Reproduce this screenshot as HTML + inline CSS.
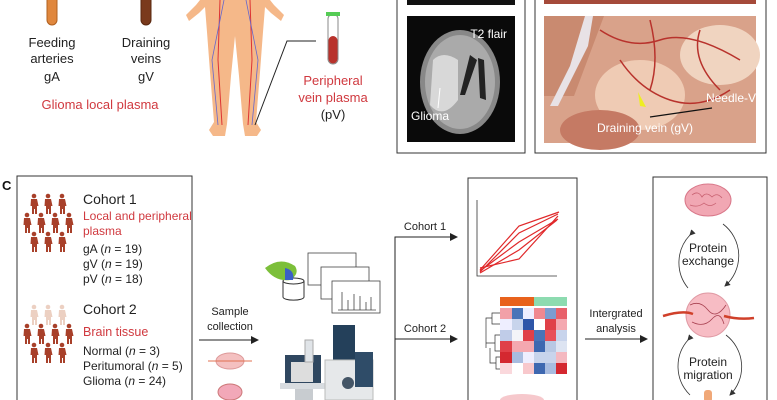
<!DOCTYPE html>
<html><head><meta charset="utf-8"><style>
html,body{margin:0;padding:0;background:#fff;width:777px;height:400px;overflow:hidden}
svg{display:block;font-family:"Liberation Sans",sans-serif}
</style></head><body>
<svg width="777" height="400" viewBox="0 0 777 400">
<defs>
<marker id="ar" markerWidth="8" markerHeight="8" refX="7" refY="4" orient="auto" markerUnits="userSpaceOnUse"><path d="M0,0 L8,4 L0,8 Z" fill="#222"/></marker>
<marker id="as" markerWidth="6" markerHeight="6" refX="5" refY="3" orient="auto" markerUnits="userSpaceOnUse"><path d="M0,0 L6,3 L0,6 Z" fill="#333"/></marker>
<g id="man"><circle cx="0" cy="-7" r="2.3"/><path d="M-3,-4 h6 l1.5,7 h-1.5 v8 h-2 v-5 h-1 v5 h-2 v-8 h-1.5 z"/></g>
</defs>

<!-- top left tubes -->
<rect x="47" y="-5" width="10" height="30" rx="5" fill="#e0873d" stroke="#b06020"/>
<rect x="141" y="-5" width="10" height="30" rx="5" fill="#7a3a1c" stroke="#5a2810"/>
<g font-size="13" fill="#222" text-anchor="middle">
<text x="52" y="47">Feeding</text><text x="52" y="63">arteries</text><text x="52" y="81">gA</text>
<text x="146" y="47">Draining</text><text x="146" y="63">veins</text><text x="146" y="81">gV</text>
</g>
<text x="100" y="109" font-size="13" fill="#d0393f" text-anchor="middle">Glioma local plasma</text>

<!-- body -->
<g fill="#f5b889">
<path d="M200,0 h70 l4,5 l10,10 l-3,6 l-10,-8 l-6,-6 l-2,25 l-3,40 l-4,50 l5,8 l-4,6 h-12 l-2,-12 l-4,-48 l-4,-40 l-4,40 l-4,48 l-2,12 h-12 l-4,-6 l5,-8 l-4,-50 l-3,-40 l-2,-25 l-6,6 l-10,8 l-3,-6 l10,-10 z"/>
</g>
<g stroke="#d33" stroke-width="1" fill="none"><path d="M220,0 L218,60 L222,125"/><path d="M250,0 L252,60 L248,125"/></g>
<g stroke="#66c" stroke-width="0.8" fill="none"><path d="M224,0 L212,60 L218,125"/><path d="M246,0 L258,60 L252,125"/></g>
<polyline points="316,41 287,41 255,125" fill="none" stroke="#222" stroke-width="1"/>
<!-- pV tube -->
<rect x="328" y="14" width="10" height="50" rx="5" fill="#fff" stroke="#888"/>
<rect x="328.5" y="36" width="9" height="27.5" rx="4.5" fill="#b8322c"/>
<rect x="326" y="12" width="14" height="4" fill="#5c5" />
<g font-size="13" text-anchor="middle"><text x="333" y="85" fill="#d0393f">Peripheral</text><text x="333" y="102" fill="#d0393f">vein plasma</text><text x="333" y="119" fill="#222">(pV)</text></g>

<!-- top right panels -->
<rect x="397" y="-2" width="128" height="155" fill="#fff" stroke="#333"/>
<rect x="407" y="-2" width="108" height="7" fill="#111"/>
<rect x="407" y="16" width="108" height="126" fill="#0a0a0a"/>
<ellipse cx="460" cy="82" rx="40" ry="52" fill="#888"/>
<ellipse cx="460" cy="82" rx="35" ry="47" fill="#aaa"/>
<path d="M433,60 q10,-10 25,0 v40 q-15,20 -28,5 z" fill="#d8d8d8"/>
<path d="M470,55 l-10,40 l5,0 l12,-35 z M478,58 l2,40 l6,2 l-2,-40z" fill="#222"/>
<text x="507" y="38" font-size="12" fill="#fff" text-anchor="end">T2 flair</text>
<text x="411" y="120" font-size="12" fill="#fff">Glioma</text>
<line x1="438" y1="108" x2="440" y2="88" stroke="#fff"/>

<rect x="535" y="-2" width="231" height="155" fill="#fff" stroke="#333"/>
<rect x="544" y="-2" width="212" height="6" fill="#a54a3a"/>
<rect x="544" y="16" width="212" height="127" fill="#d9a28a"/>
<path d="M544,16 h60 l-30,80 h-30z" fill="#c98a70"/>
<path d="M585,16 l-15,50 l-20,40 l8,0 l30,-60 l5,-30z" fill="#e8e2e6"/>
<ellipse cx="640" cy="95" rx="45" ry="35" fill="#efcbb4"/>
<ellipse cx="720" cy="55" rx="40" ry="30" fill="#f0d4c0"/>
<ellipse cx="600" cy="130" rx="40" ry="20" fill="#c57a64"/>
<g stroke="#b8322c" stroke-width="1.5" fill="none"><path d="M600,30 q30,20 60,10 t80,20"/><path d="M620,60 q20,30 50,40 t60,-10"/><path d="M650,20 q10,40 0,70"/><path d="M700,30 q-10,30 20,60"/></g>
<line x1="650" y1="117" x2="712" y2="108" stroke="#111" stroke-width="1.2"/>
<path d="M638,92 l8,15 l-6,-1z" fill="#ee2"/>
<text x="756" y="102" font-size="12" fill="#fff" text-anchor="end">Needle-V</text>
<text x="597" y="132" font-size="12" fill="#fff">Draining vein (gV)</text>

<!-- Section C -->
<text x="2" y="190" font-size="13" font-weight="bold" fill="#111">C</text>
<rect x="17" y="176" width="175" height="230" fill="#fff" stroke="#333"/>
<g fill="#a8402a">
<use href="#man" x="34" y="203"/><use href="#man" x="48" y="203"/><use href="#man" x="62" y="203"/>
<use href="#man" x="27" y="222"/><use href="#man" x="41" y="222"/><use href="#man" x="55" y="222"/><use href="#man" x="69" y="222"/>
<use href="#man" x="34" y="241"/><use href="#man" x="48" y="241"/><use href="#man" x="62" y="241"/>
<use href="#man" x="27" y="333"/><use href="#man" x="41" y="333"/><use href="#man" x="55" y="333"/><use href="#man" x="69" y="333"/>
<use href="#man" x="34" y="352"/><use href="#man" x="48" y="352"/><use href="#man" x="62" y="352"/>
</g>
<g fill="#ecd0c2"><use href="#man" x="34" y="314"/><use href="#man" x="48" y="314"/><use href="#man" x="62" y="314"/></g>
<g font-size="12" fill="#222">
<text x="83" y="204" font-size="14">Cohort 1</text>
<text x="83" y="220" fill="#d0393f" font-size="12">Local and peripheral</text>
<text x="83" y="235" fill="#d0393f" font-size="12">plasma</text>
<text x="83" y="253">gA (<tspan font-style="italic">n</tspan> = 19)</text>
<text x="83" y="268">gV (<tspan font-style="italic">n</tspan> = 19)</text>
<text x="83" y="283">pV (<tspan font-style="italic">n</tspan> = 18)</text>
<text x="83" y="314" font-size="14">Cohort 2</text>
<text x="83" y="336" fill="#d0393f" font-size="12.5">Brain tissue</text>
<text x="83" y="355">Normal (<tspan font-style="italic">n</tspan> = 3)</text>
<text x="83" y="370">Peritumoral (<tspan font-style="italic">n</tspan> = 5)</text>
<text x="83" y="385">Glioma (<tspan font-style="italic">n</tspan> = 24)</text>
</g>
<g font-size="11" fill="#222" text-anchor="middle"><text x="230" y="315">Sample</text><text x="230" y="330">collection</text></g>
<line x1="199" y1="340" x2="258" y2="340" stroke="#222" marker-end="url(#ar)"/>
<ellipse cx="230" cy="361" rx="14" ry="8" fill="#f4c0c0" stroke="#d99"/>
<line x1="208" y1="361" x2="252" y2="361" stroke="#e07050"/>
<ellipse cx="230" cy="392" rx="12" ry="8" fill="#f2a8b8" stroke="#c77"/>

<!-- omics -->
<rect x="308" y="253" width="48" height="32" fill="#fff" stroke="#444" stroke-width="0.8"/>
<rect x="321" y="267" width="48" height="32" fill="#fff" stroke="#444" stroke-width="0.8"/>
<rect x="332" y="281" width="48" height="32" fill="#fff" stroke="#444" stroke-width="0.8"/>
<g stroke="#444" stroke-width="0.8"><line x1="338" y1="310" x2="376" y2="310"/><line x1="342" y1="310" x2="342" y2="292"/><line x1="348" y1="310" x2="348" y2="300"/><line x1="354" y1="310" x2="354" y2="294"/><line x1="360" y1="310" x2="360" y2="296"/><line x1="366" y1="310" x2="366" y2="302"/><line x1="371" y1="310" x2="371" y2="297"/></g>
<path d="M283,281 v16 a10,3 0 0 0 21,0 v-16" fill="#fff" stroke="#333"/>
<ellipse cx="293.5" cy="281" rx="10.5" ry="3" fill="#fff" stroke="#333"/>
<path d="M265,268 q15,-12 30,-2 q5,8 -5,14 q-15,2 -25,-12z" fill="#7cbf3a"/>
<path d="M285,268 q10,2 8,12 l-8,0z" fill="#3a5fc8"/>
<!-- instrument -->
<rect x="285" y="355" width="36" height="30" fill="#2f4760"/>
<rect x="291" y="362" width="22" height="20" fill="#ddd"/>
<rect x="305" y="340" width="8" height="22" fill="#e0e4e8" stroke="#aaa"/>
<rect x="280" y="383" width="47" height="6" fill="#d8dce0"/>
<rect x="295" y="389" width="18" height="11" fill="#c8ccd0"/>
<rect x="333" y="325" width="22" height="42" fill="#24405a"/>
<rect x="325" y="360" width="48" height="40" fill="#e6e8ea" stroke="#bbb"/>
<rect x="355" y="352" width="18" height="35" fill="#2f4c68"/>
<circle cx="348" cy="383" r="6" fill="#456"/>

<!-- connectors -->
<polyline points="395,400 395,237 457,237" fill="none" stroke="#222" marker-end="url(#ar)"/>
<line x1="395" y1="339" x2="457" y2="339" stroke="#222" marker-end="url(#ar)"/>
<text x="425" y="230" font-size="11" text-anchor="middle" fill="#222">Cohort 1</text>
<text x="425" y="332" font-size="11" text-anchor="middle" fill="#222">Cohort 2</text>

<rect x="468" y="178" width="109" height="230" fill="#fff" stroke="#333"/>
<polyline points="477,200 477,276 557,276" fill="none" stroke="#333" stroke-width="0.8"/>
<g stroke="#e0282a" stroke-width="1.2" fill="none">
<polyline points="480,270 519,226 559,212"/><polyline points="480,272 519,233 558,214"/><polyline points="480,271 519,242 558,219"/><polyline points="480,273 519,250 557,220"/><polyline points="480,268 519,259 558,216"/>
</g>
<rect x="500" y="297" width="34" height="9" fill="#e8621c"/>
<rect x="534" y="297" width="33" height="9" fill="#8ddbb0"/>
<g>
<rect x="500" y="308" width="12" height="11" fill="#f2a0a8"/><rect x="512" y="308" width="11" height="11" fill="#4a74b8"/><rect x="523" y="308" width="11" height="11" fill="#eef"/><rect x="534" y="308" width="11" height="11" fill="#f08890"/><rect x="545" y="308" width="11" height="11" fill="#7c9cd0"/><rect x="556" y="308" width="11" height="11" fill="#e8606a"/>
<rect x="500" y="319" width="12" height="11" fill="#eef"/><rect x="512" y="319" width="11" height="11" fill="#c8d4ec"/><rect x="523" y="319" width="11" height="11" fill="#2e56a8"/><rect x="534" y="319" width="11" height="11" fill="#fff"/><rect x="545" y="319" width="11" height="11" fill="#e04048"/><rect x="556" y="319" width="11" height="11" fill="#f4a8b0"/>
<rect x="500" y="330" width="12" height="11" fill="#c0cce8"/><rect x="512" y="330" width="11" height="11" fill="#f4f4f8"/><rect x="523" y="330" width="11" height="11" fill="#e04048"/><rect x="534" y="330" width="11" height="11" fill="#4a74b8"/><rect x="545" y="330" width="11" height="11" fill="#e8505a"/><rect x="556" y="330" width="11" height="11" fill="#c8d4ec"/>
<rect x="500" y="341" width="12" height="11" fill="#e04048"/><rect x="512" y="341" width="11" height="11" fill="#f4a8b0"/><rect x="523" y="341" width="11" height="11" fill="#f4a8b0"/><rect x="534" y="341" width="11" height="11" fill="#3e68b0"/><rect x="545" y="341" width="11" height="11" fill="#b8c8e4"/><rect x="556" y="341" width="11" height="11" fill="#dde4f2"/>
<rect x="500" y="352" width="12" height="11" fill="#d42830"/><rect x="512" y="352" width="11" height="11" fill="#a8bce0"/><rect x="523" y="352" width="11" height="11" fill="#eef"/><rect x="534" y="352" width="11" height="11" fill="#c8d4ec"/><rect x="545" y="352" width="11" height="11" fill="#c8d4ec"/><rect x="556" y="352" width="11" height="11" fill="#f4b8c0"/>
<rect x="500" y="363" width="12" height="11" fill="#fad8dc"/><rect x="512" y="363" width="11" height="11" fill="#fff"/><rect x="523" y="363" width="11" height="11" fill="#f8c8cc"/><rect x="534" y="363" width="11" height="11" fill="#3e68b0"/><rect x="545" y="363" width="11" height="11" fill="#a8bce0"/><rect x="556" y="363" width="11" height="11" fill="#d42830"/>
</g>
<g stroke="#333" stroke-width="0.7" fill="none"><path d="M500,313 h-8 v11 h8 M492,318 h-6 v30 M500,335 h-5 v16 h5 M495,343 h-9 M500,357 h-4 v12 h4 M496,363 h-6 v-15"/></g>
<ellipse cx="522" cy="400" rx="22" ry="6" fill="#f6c8cc"/>

<g font-size="11" fill="#222" text-anchor="middle"><text x="616" y="317">Intergrated</text><text x="616" y="332">analysis</text></g>
<line x1="585" y1="339" x2="647" y2="339" stroke="#222" marker-end="url(#ar)"/>

<rect x="653" y="177" width="114" height="231" fill="#fff" stroke="#333"/>
<ellipse cx="708" cy="200" rx="23" ry="16" fill="#f1a7b3" stroke="#d9788a"/>
<g stroke="#c86070" stroke-width="0.8" fill="none"><path d="M692,195 q6,-5 10,2 q4,-6 10,0 q5,-5 10,1"/><path d="M690,205 q8,3 14,-2 q6,5 12,0"/></g>
<path d="M690,235 A40,40 0 0 0 688,288" fill="none" stroke="#333" stroke-width="0.8" marker-start="url(#as)"/>
<path d="M723,224 A40,40 0 0 1 725,286" fill="none" stroke="#333" stroke-width="0.8" marker-end="url(#as)"/>
<g font-size="12" fill="#222" text-anchor="middle"><text x="708" y="252">Protein</text><text x="708" y="265">exchange</text>
<text x="708" y="366">Protein</text><text x="708" y="379">migration</text></g>
<circle cx="708" cy="315" r="22" fill="#f7bcc4" stroke="#e09aa4"/>
<g stroke="#a84050" stroke-width="0.8" fill="none"><path d="M690,305 q10,-5 18,5 t18,-5"/><path d="M692,322 q12,6 20,-3 t12,5"/></g>
<path d="M663,316 q20,-6 30,-2 M724,316 q15,4 30,2" stroke="#d0402a" stroke-width="2.5" fill="none"/>
<path d="M688,340 A40,40 0 0 0 690,395" fill="none" stroke="#333" stroke-width="0.8" marker-start="url(#as)"/>
<path d="M726,335 A40,40 0 0 1 730,395" fill="none" stroke="#333" stroke-width="0.8" marker-end="url(#as)"/>
<rect x="704" y="390" width="8" height="12" rx="3" fill="#f0a878"/>
</svg>
</body></html>
